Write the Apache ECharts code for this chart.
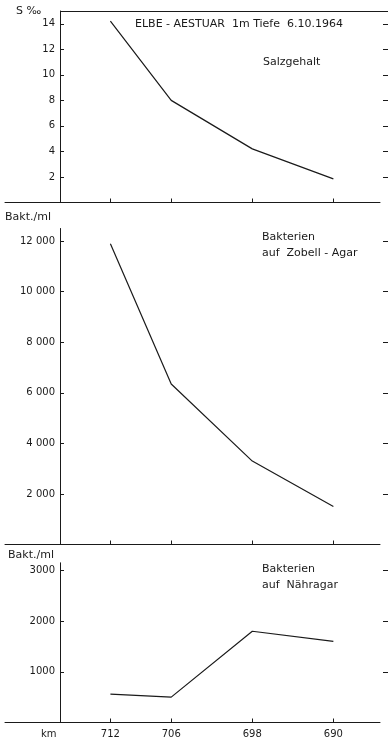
<!DOCTYPE html>
<html>
<head>
<meta charset="utf-8">
<script src="https://cdn.jsdelivr.net/npm/echarts@6/dist/echarts.min.js"></script>
<style>
  html, body { margin: 0; padding: 0; background: #fff; }
  #chart { width: 388px; height: 741px; }
</style>
</head>
<body>
<div id="chart"></div>
<script>
// Stationen (km) entlang der Elbe
const kmTicks = [712, 706, 698, 690]
const salinity = [14.2, 8.0, 4.2, 1.85]
const zobell = [11900, 6350, 3300, 1500]
const naehragar = [560, 500, 1800, 1600]

const salTicks = [2, 4, 6, 8, 10, 12, 14]
const zobellTicks = [2000, 4000, 6000, 8000, 10000, 12000]
const naehrTicks = [1000, 2000, 3000]

const ink = '#1a1a1a'
const font = 'DejaVu Sans'

const chart = echarts.init(document.getElementById('chart'))

function spaced(v) {
  return v >= 1000 ? Math.floor(v / 1000) + ' ' + String(v % 1000).padStart(3, '0') : String(v)
}

function pairs(values) {
  return kmTicks.map((k, i) => [k, values[i]])
}

const grids = [
  { left: 5, right: 8, top: 11, height: 191.5 },
  { left: 5, right: 8, top: 228.5, height: 316 },
  { left: 5, right: 8, top: 562.8, height: 159.7 },
]

function xAxis(gridIndex, withLabels) {
  return {
    type: 'value',
    gridIndex,
    inverse: true,
    min: 685.4,
    max: 722.4,
    axisLine: { show: true, lineStyle: { color: ink, width: 1 } },
    axisTick: { show: true, inside: true, length: 4, customValues: kmTicks, lineStyle: { color: ink } },
    axisLabel: {
      show: withLabels,
      customValues: kmTicks,
      margin: 7,
      color: ink,
      fontFamily: font,
      fontSize: 10,
    },
    splitLine: { show: false },
  }
}

function leftAxis(gridIndex, max, ticks, fmt) {
  return {
    type: 'value',
    gridIndex,
    position: 'left',
    offset: -55,
    min: 0,
    max,
    axisLine: { show: true, lineStyle: { color: ink, width: 1 } },
    axisTick: { show: true, inside: true, length: 4, customValues: ticks, lineStyle: { color: ink } },
    axisLabel: {
      customValues: ticks,
      formatter: fmt,
      margin: 5,
      color: ink,
      fontFamily: font,
      fontSize: 10,
    },
    splitLine: { show: false },
  }
}

function rightAxis(gridIndex, max, ticks) {
  return {
    type: 'value',
    gridIndex,
    position: 'right',
    offset: 3,
    min: 0,
    max,
    axisLine: { show: false },
    axisTick: { show: true, inside: false, length: 5, customValues: ticks, lineStyle: { color: ink } },
    axisLabel: { show: false },
    splitLine: { show: false },
  }
}

function line(xi, yi, values) {
  return {
    type: 'line',
    xAxisIndex: xi,
    yAxisIndex: yi,
    data: pairs(values),
    showSymbol: false,
    lineStyle: { color: ink, width: 1.2 },
    animation: false,
  }
}

const txt = { color: ink, fontFamily: font, fontSize: 11, fontWeight: 'normal', lineHeight: 16 }

chart.setOption({
  backgroundColor: '#fff',
  animation: false,
  title: [
    { text: 'S ‰', left: 16, top: 3, padding: 0, textStyle: txt },
    { text: 'ELBE - AESTUAR  1m Tiefe  6.10.1964', left: 135, top: 16, padding: 0, textStyle: txt },
    { text: 'Salzgehalt', left: 263, top: 54, padding: 0, textStyle: txt },
    { text: 'Bakt./ml', left: 5, top: 209, padding: 0, textStyle: txt },
    { text: 'Bakterien\nauf  Zobell - Agar', left: 262, top: 229, padding: 0, textStyle: txt },
    { text: 'Bakt./ml', left: 8, top: 547, padding: 0, textStyle: txt },
    { text: 'Bakterien\nauf  Nähragar', left: 262, top: 561, padding: 0, textStyle: txt },
    { text: 'km', left: 41, top: 726, padding: 0, textStyle: { ...txt, fontSize: 10 } },
  ],
  grid: grids.map((g) => ({ ...g, containLabel: false, outerBoundsMode: 'none' })),
  xAxis: [xAxis(0, false), xAxis(1, false), xAxis(2, true)],
  yAxis: [
    leftAxis(0, 15, salTicks, (v) => String(v)),
    leftAxis(1, 12500, zobellTicks, spaced),
    leftAxis(2, 3150, naehrTicks, (v) => String(v)),
    rightAxis(0, 15, salTicks),
    rightAxis(1, 12500, zobellTicks),
    rightAxis(2, 3150, naehrTicks),
  ],
  graphic: [
    // oberer Rahmen des Salzgehalt-Diagramms
    { type: 'line', shape: { x1: 60, y1: 11.5, x2: 388, y2: 11.5 }, style: { stroke: ink, lineWidth: 1 } },
  ],
  series: [
    line(0, 0, salinity),
    line(1, 1, zobell),
    line(2, 2, naehragar),
  ],
})
</script>
</body>
</html>
